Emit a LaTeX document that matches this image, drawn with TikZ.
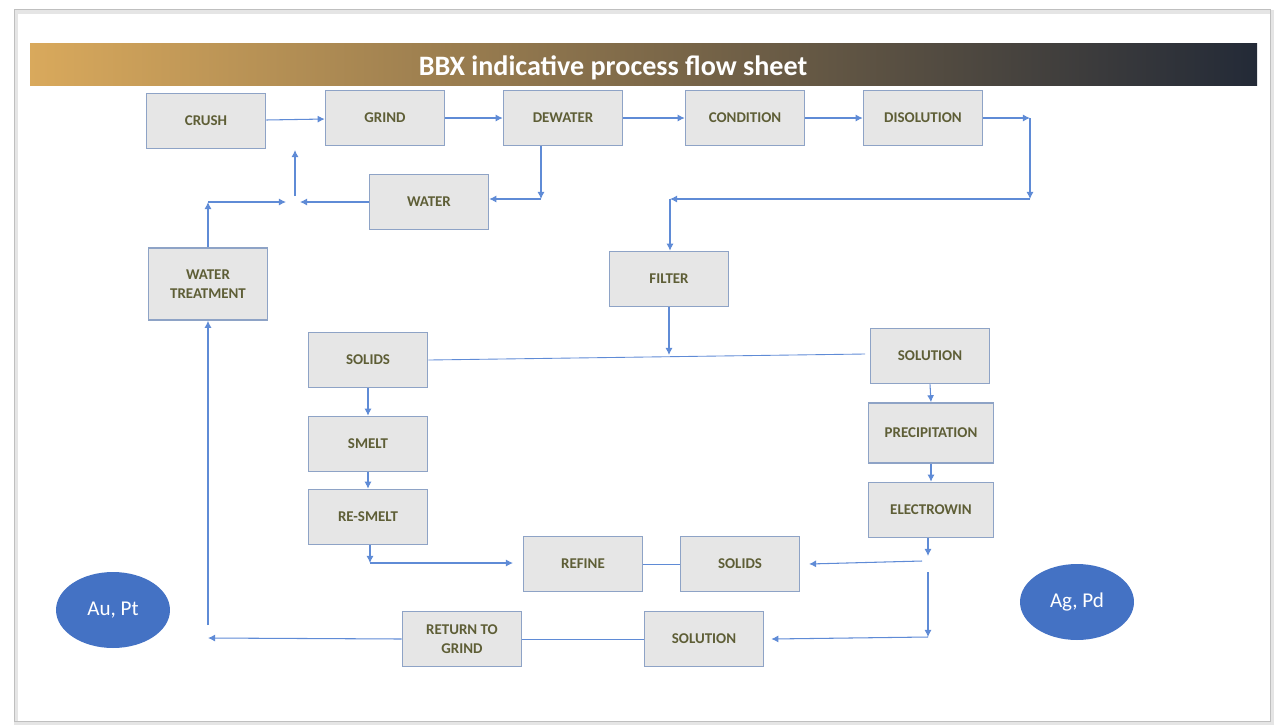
\documentclass[tikz,border=0pt]{standalone}
\usepackage{fontspec}
\setmainfont{Carlito}
\usepackage{tikz}
\usetikzlibrary{arrows.meta,shapes.geometric}

\definecolor{boxfill}{HTML}{E6E6E6}
\definecolor{boxline}{HTML}{8EA3C6}
\definecolor{boxtext}{HTML}{5E5E36}
\definecolor{flowblue}{HTML}{5F8BD6}
\definecolor{metalblue}{HTML}{4472C4}
\definecolor{bargold}{HTML}{D9A95C}
\definecolor{barmid}{HTML}{7D6748}
\definecolor{barnavy}{HTML}{232A37}

\begin{document}
\begin{tikzpicture}[x=0.02cm, y=-0.02cm,
  box/.style={draw=boxline, line width=0.9pt, fill=boxfill, minimum width=2.38cm, minimum height=1.1cm,
    inner sep=1pt, align=center, text=boxtext, font=\fontsize{8.5}{10.5}\selectfont\bfseries},
  metal/.style={ellipse, fill=metalblue, minimum width=2.28cm, minimum height=1.52cm, inner sep=0pt,
    text=white, font=\fontsize{12}{14}\selectfont},
  flow/.style={draw=flowblue, line width=0.6pt, -{Latex[length=4pt,width=4pt]}},
  line/.style={draw=flowblue, line width=0.5pt}]
\useasboundingbox (0,0) rectangle (1282,725);

% slide frame and banner
\draw[gray!20, line width=2pt] (16,12) rectangle (1272,723);
\draw[gray!50, line width=0.5pt] (14,9) rectangle (1270,721);
\shade[left color=bargold, middle color=barmid, right color=barnavy] (30,43) rectangle (1257,85);
\node[text=white, font=\fontsize{16}{18}\selectfont\bfseries] (title) at (613,68) {BBX indicative process flow sheet};

% process steps
\node[box] (crush) at (206,121) {CRUSH};
\node[box] (grind) at (385,118) {GRIND};
\node[box] (dewater) at (563,118) {DEWATER};
\node[box] (condition) at (745,118) {CONDITION};
\node[box] (disolution) at (923,118) {DISOLUTION};
\node[box] (water) at (429,202) {WATER};
\node[box, minimum height=1.44cm] (treat) at (208,284) {WATER\\TREATMENT};
\node[box] (filter) at (669,279) {FILTER};
\node[box] (solidsA) at (368,360) {SOLIDS};
\node[box] (solutionA) at (930,356) {SOLUTION};
\node[box] (smelt) at (368,444) {SMELT};
\node[box] (resmelt) at (368,517) {RE-SMELT};
\node[box, minimum width=2.5cm, minimum height=1.2cm] (precip) at (931,433) {PRECIPITATION};
\node[box, minimum width=2.5cm] (electro) at (931,510) {ELECTROWIN};
\node[box] (refine) at (583,564) {REFINE};
\node[box] (solidsB) at (740,564) {SOLIDS};
\node[box] (return) at (462,639) {RETURN TO\\GRIND};
\node[box] (solutionB) at (704,639) {SOLUTION};

\node[metal] (au) at (113,610) {Au, Pt};
\node[metal] (ag) at (1077,602) {Ag, Pd};

% junctions
\coordinate (j1) at (1030,118);
\coordinate (j2) at (1030,199);
\coordinate (j3) at (670,199);
\coordinate (d1) at (541,199);
\coordinate (w1) at (300,202);
\coordinate (w2) at (295,196);
\coordinate (w3) at (295,150);
\coordinate (t1) at (208,202);
\coordinate (t2) at (286,202);
\coordinate (f1) at (669,355);
\coordinate (s1) at (865,354);
\coordinate (r1) at (370,563);
\coordinate (r2) at (513,563);
\coordinate (e1) at (928,556);
\coordinate (e2) at (922,561);
\coordinate (e3) at (928,572);
\coordinate (e4) at (928,637);
\coordinate (g1) at (208,638);
\coordinate (g2) at (208,625);

% top row
\draw[flow] (crush) -- (grind);
\draw[flow] (grind) -- (dewater);
\draw[flow] (dewater) -- (condition);
\draw[flow] (condition) -- (disolution);
\draw[flow] (disolution) -- (j1);
\draw[flow] (j1) -- (j2);
\draw[flow] (j2) -- (j3);
\draw[flow] (j3) -- (filter.north -| j3);

% water loop
\draw[flow] (dewater.south -| d1) -- (d1);
\draw[flow] (d1) -- (water.east |- d1);
\draw[flow] (water.west) -- (w1);
\draw[flow] (w2) -- (w3);
\draw[flow] (treat.north) -- (t1);
\draw[flow] (t1) -- (t2);

% solids side
\draw[flow] (filter.south) -- (f1);
\draw[line] (solidsA.east) -- (s1);
\draw[flow] (solidsA.south) -- (smelt.north);
\draw[flow] (smelt.south) -- (resmelt.north);
\draw[flow] (resmelt.south -| r1) -- (r1);
\draw[flow] (r1) -- (r2);
\draw[line] (refine) -- (solidsB);

% solution side
\draw[flow] (solutionA.south) -- (precip.north);
\draw[flow] (precip.south) -- (electro.north);
\draw[flow] (electro.south -| e1) -- (e1);
\draw[flow] (e2) -- ([xshift=5pt]solidsB.east);
\draw[flow] (e3) -- (e4);
\draw[flow] (e4) -- ([xshift=4pt]solutionB.east);
\draw[line] (solutionB) -- (return);
\draw[flow] (return.west) -- (g1);
\draw[flow] (g2) -- (treat.south);
\end{tikzpicture}
\end{document}
